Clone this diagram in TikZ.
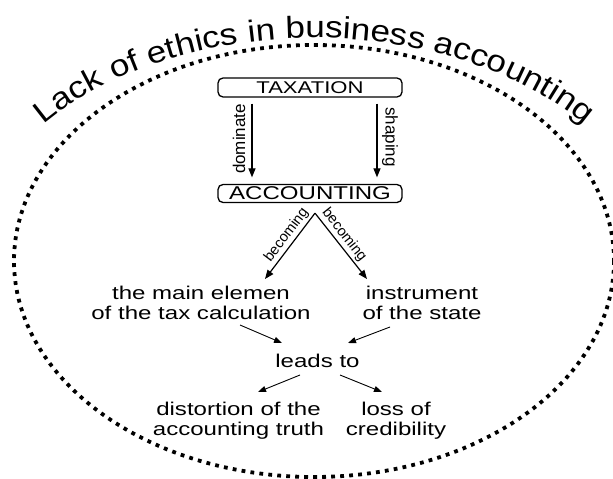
\documentclass[tikz,border=0pt]{standalone}
\usepackage{fontspec}
\setmainfont{Liberation Sans}
\newfontfamily\widefam{Liberation Sans}[FakeStretch=1.3]
\newfontfamily\titlefam{Liberation Sans}[FakeStretch=1.15]
\usetikzlibrary{arrows.meta,decorations.text,calc}
\begin{document}
\begin{tikzpicture}[x=1pt,y=-1pt,
  box/.style={draw, line width=1.3pt, rounded corners=5pt, minimum width=184pt, inner sep=0pt},
  txt/.style={inner sep=0pt, anchor=north, align=center, font=\widefam\fontsize{18.5}{19.5}\selectfont},
  lab/.style={inner sep=0pt, font=\fontsize{17}{17}\selectfont},
  blab/.style={inner sep=2pt, font=\fontsize{14.5}{14.5}\selectfont},
  big/.style={-{Triangle[length=9pt,width=7pt]}, line width=1.2pt},
  small/.style={-{Triangle[length=8pt,width=6pt]}, line width=0.9pt},
  dots/.style={line width=3.8pt, dash pattern=on 3.8pt off 5.2pt}]
\useasboundingbox (0,0) rectangle (613,479);
% dotted ellipse
\draw[dots] (314,261) ellipse [x radius=300, y radius=216];
% title along arc
\path[decorate, decoration={text along path, text align=center,
  text={|\titlefam\fontsize{30.5}{31}\selectfont|Lack of ethics in business accounting}}]
  ($(314,266)+(-152:345 and 228)$) arc[start angle=-152, end angle=-28, x radius=345, y radius=228];
% boxes
\node[box, minimum height=19pt, font=\widefam\fontsize{17}{17}\selectfont] (tax) at (310,87.5) {TAXATION};
\node[box, minimum height=18pt, font=\widefam\fontsize{18.5}{18.5}\selectfont] (acc) at (310,193.5) {ACCOUNTING};
% vertical arrows
\draw[big] ([xshift=-58pt,yshift=-6pt]tax.south) -- ([xshift=-58pt,yshift=6.5pt]acc.north);
\draw[big] ([xshift=67pt,yshift=-6pt]tax.south) -- ([xshift=67pt,yshift=6.5pt]acc.north);
\node[lab, rotate=90] (dom) at (239,139) {dominate};
\node[lab, rotate=-90] (shp) at (390,137) {shaping};
% text nodes
\node[txt] (main) at (201,286) {the main elemen\\of the tax calculation};
\node[txt] (inst) at (422,286) {instrument\\of the state};
\node[txt] (leads) at (317.5,354) {leads to};
\node[txt] (dist) at (238.5,402) {distortion of the\\accounting truth};
\node[txt] (loss) at (396,402) {loss of\\credibility};
% becoming arrows
\coordinate (apex) at ([xshift=5pt,yshift=-10pt]acc.south);
\coordinate (t1) at ($(main.north)+(64,-7)$);
\coordinate (t2) at ($(inst.north)+(-55,-7)$);
\draw[big] (apex) -- node[blab, sloped, above, pos=0.42] (b1) {becoming} (t1);
\draw[big] (apex) -- node[blab, sloped, above, pos=0.42] (b2) {becoming} (t2);
% lower arrows
\coordinate (m1) at (240,325);
\coordinate (l1) at (282,343);
\coordinate (i1) at (390,327);
\coordinate (l2) at (348,343);
\coordinate (l3) at (300,375);
\coordinate (d1) at (258,392);
\coordinate (l4) at (340,375);
\coordinate (s1) at (382,392);
\draw[small] (m1) -- (l1);
\draw[small] (i1) -- (l2);
\draw[small] (l3) -- (d1);
\draw[small] (l4) -- (s1);
\end{tikzpicture}
\end{document}
